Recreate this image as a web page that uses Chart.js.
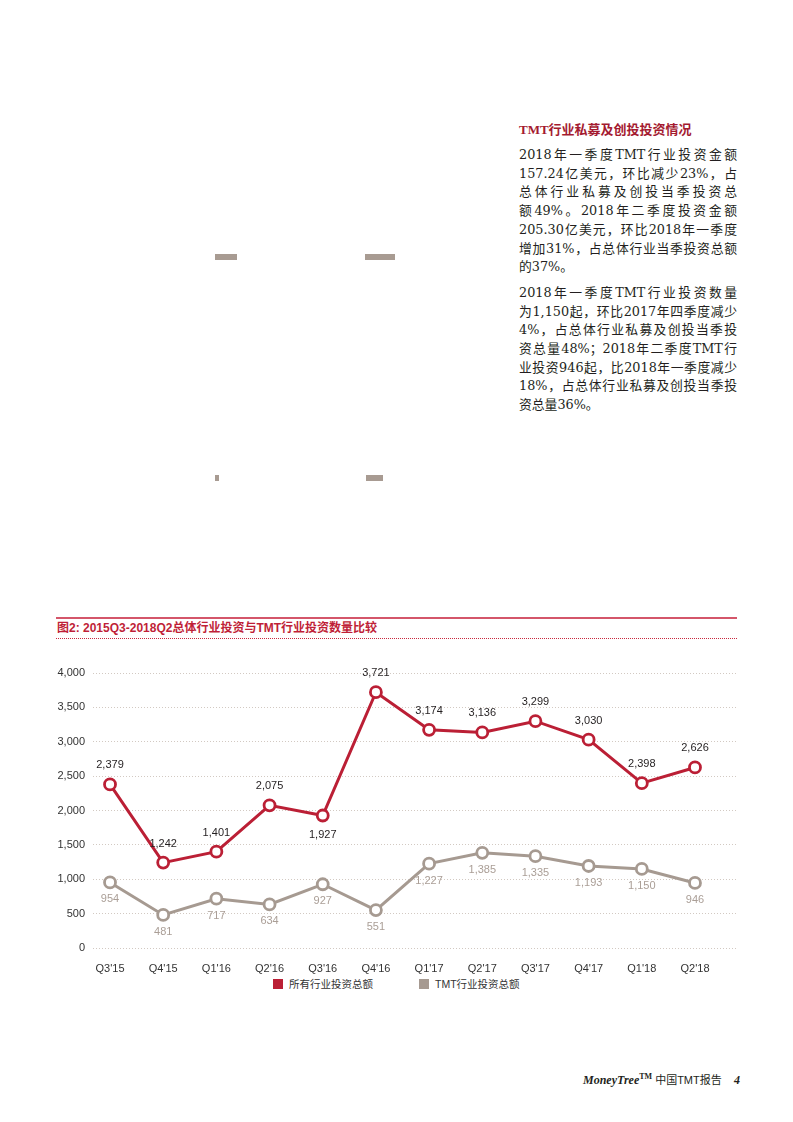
<!DOCTYPE html>
<html>
<head>
<meta charset="utf-8">
<script src="https://cdn.jsdelivr.net/npm/chart.js@4.4.0/dist/chart.umd.min.js"></script>
<style>
    body { margin: 0; width: 793px; height: 1122px; position: relative; background: #fff; overflow: hidden;
           font-family: "Liberation Sans", "Noto Sans CJK SC", sans-serif; }
    .abs { position: absolute; }
    .blk { position: absolute; background: #a89b92; }
    #side { left: 519px; top: 120px; width: 218px; }
    #side h3 { margin: 0 0 6px 0; font: bold 13px/20px "Liberation Serif", "Noto Sans CJK SC", serif; color: #a41a30; }
    .p { font: 12.8px/18.7px "DejaVu Serif", "Noto Sans CJK SC", serif; color: #231f20; margin-bottom: 7px; }
    .p div { text-align: justify; text-align-last: justify; white-space: nowrap; }
    .p div.last { text-align-last: left; }
    #figTitle { left: 57px; top: 620px; font: bold 12px/16px "Liberation Sans", "Noto Sans CJK SC", sans-serif; color: #bf1f38; }
    #topRule { left: 56px; top: 617px; width: 681px; height: 1.5px; background: #d4566a; }
    #dotRule { left: 56px; top: 638px; width: 681px; height: 0; border-top: 1.5px dotted #c8293f; }
    #chartBox { left: 40px; top: 655px; width: 720px; height: 320px; }
    .leg { position: absolute; top: 977px; font: 10.5px/14px "Liberation Sans", "Noto Sans CJK SC", sans-serif; color: #333; }
    .leg i { display: inline-block; width: 10px; height: 10px; vertical-align: -1px; margin-right: 6px; }
    #footer { left: 583px; top: 1071px; font: 11px/18px "Liberation Sans", "Noto Sans CJK SC", sans-serif; color: #231f20; white-space: nowrap; }
    #footer b { font: italic bold 12px "Liberation Serif", serif; }
</style>
</head>
<body>

<!-- leftover blocks from the figure above -->
<div class="blk" style="left:215px;top:254px;width:22px;height:6px"></div>
<div class="blk" style="left:365px;top:254px;width:30px;height:6px"></div>
<div class="blk" style="left:215px;top:475px;width:4px;height:6px"></div>
<div class="blk" style="left:366px;top:475px;width:17px;height:6px"></div>

<div id="side" class="abs">
    <h3>TMT行业私募及创投投资情况</h3>
    <div class="p">
        <div>2018年一季度TMT行业投资金额</div>
        <div>157.24亿美元，环比减少23%，占</div>
        <div>总体行业私募及创投当季投资总</div>
        <div>额49%。2018年二季度投资金额</div>
        <div>205.30亿美元，环比2018年一季度</div>
        <div>增加31%，占总体行业当季投资总额</div>
        <div class="last">的37%。</div>
    </div>
    <div class="p">
        <div>2018年一季度TMT行业投资数量</div>
        <div>为1,150起，环比2017年四季度减少</div>
        <div>4%，占总体行业私募及创投当季投</div>
        <div>资总量48%；2018年二季度TMT行</div>
        <div>业投资946起，比2018年一季度减少</div>
        <div>18%，占总体行业私募及创投当季投</div>
        <div class="last">资总量36%。</div>
    </div>
</div>

<div id="topRule" class="abs"></div>
<div id="figTitle" class="abs">图2: 2015Q3-2018Q2总体行业投资与TMT行业投资数量比较</div>
<div id="dotRule" class="abs"></div>

<div id="chartBox" class="abs"><canvas id="dealsChart"></canvas></div>

<div class="leg" style="left:273px"><i style="background:#bb1f35"></i>所有行业投资总额</div>
<div class="leg" style="left:419px"><i style="background:#a69a91"></i>TMT行业投资总额</div>

<div id="footer" class="abs"><b>MoneyTree</b><sup style="font:bold 8px 'Liberation Serif'">TM</sup> 中国TMT报告 &nbsp;&nbsp;&nbsp;<b>4</b></div>

<script>
// Quarterly deal counts, Q3'15 - Q2'18
const quarters = ["Q3'15", "Q4'15", "Q1'16", "Q2'16", "Q3'16", "Q4'16",
                  "Q1'17", "Q2'17", "Q3'17", "Q4'17", "Q1'18", "Q2'18"];
const allDeals = [2379, 1242, 1401, 2075, 1927, 3721, 3174, 3136, 3299, 3030, 2398, 2626];
const tmtDeals = [954, 481, 717, 634, 927, 551, 1227, 1385, 1335, 1193, 1150, 946];
const seriesNames = ['所有行业投资总额', 'TMT行业投资总额'];
const yTicks = [0, 500, 1000, 1500, 2000, 2500, 3000, 3500, 4000];

const RED = '#bb1f35';
const GREY = '#a69a91';

// Draws the value next to each point
const valueLabels = {
    id: 'valueLabels',
    afterDatasetsDraw(chart) {
        const ctx = chart.ctx;
        ctx.save();
        ctx.font = '11px "Liberation Sans", Arial, sans-serif';
        ctx.textAlign = 'center';
        ctx.textBaseline = 'middle';
        chart.data.datasets.forEach((ds, di) => {
            const meta = chart.getDatasetMeta(di);
            ctx.fillStyle = ds.labelColor;
            meta.data.forEach((pt, i) => {
                const v = ds.data[i].y;
                ctx.fillText(v.toLocaleString('en-US'), pt.x, pt.y + ds.labelOffset(i));
            });
        });
        ctx.restore();
    }
};

const toPoints = arr => arr.map((v, i) => ({ x: i, y: v }));

new Chart(document.getElementById('dealsChart').getContext('2d'), {
    type: 'line',
    data: {
        datasets: [{
            label: seriesNames[0],
            data: toPoints(allDeals),
            borderColor: RED,
            backgroundColor: RED,
            borderWidth: 3,
            pointRadius: 5.5,
            pointBorderWidth: 2.8,
            pointBackgroundColor: '#fff',
            pointBorderColor: RED,
            tension: 0,
            labelColor: '#231f20',
            labelOffset: i => (i === 4 ? 19 : -19)
        }, {
            label: seriesNames[1],
            data: toPoints(tmtDeals),
            borderColor: GREY,
            backgroundColor: GREY,
            borderWidth: 3,
            pointRadius: 5.5,
            pointBorderWidth: 2.8,
            pointBackgroundColor: '#fff',
            pointBorderColor: GREY,
            tension: 0,
            labelColor: '#aa9e96',
            labelOffset: () => 17
        }]
    },
    options: {
        responsive: true,
        maintainAspectRatio: false,
        animation: false,
        layout: { padding: { left: 0, right: 23, top: 18, bottom: 0 } },
        plugins: {
            legend: { display: false },
            tooltip: { enabled: false }
        },
        scales: {
            x: {
                type: 'linear',
                min: -0.32,
                max: 11.79,
                grid: { display: false },
                border: { display: false },
                afterBuildTicks: axis => { axis.ticks = quarters.map((q, i) => ({ value: i })); },
                afterFit: axis => { axis.height = 27; },
                ticks: {
                    autoSkip: false,
                    maxRotation: 0,
                    padding: 6,
                    color: '#333',
                    font: { family: '"Liberation Sans", Arial, sans-serif', size: 11 },
                    callback: v => quarters[v]
                }
            },
            y: {
                min: 0,
                max: 4000,
                grid: { color: '#d2c9c2', lineWidth: 1, drawTicks: false },
                border: { display: false, dash: [1, 2] },
                afterBuildTicks: axis => { axis.ticks = yTicks.map(v => ({ value: v })); },
                afterFit: axis => { axis.width = 53; },
                ticks: {
                    padding: 8,
                    color: '#333',
                    font: { family: '"Liberation Sans", Arial, sans-serif', size: 11 },
                    callback: v => v.toLocaleString('en-US')
                }
            }
        }
    },
    plugins: [valueLabels]
});
</script>
</body>
</html>
